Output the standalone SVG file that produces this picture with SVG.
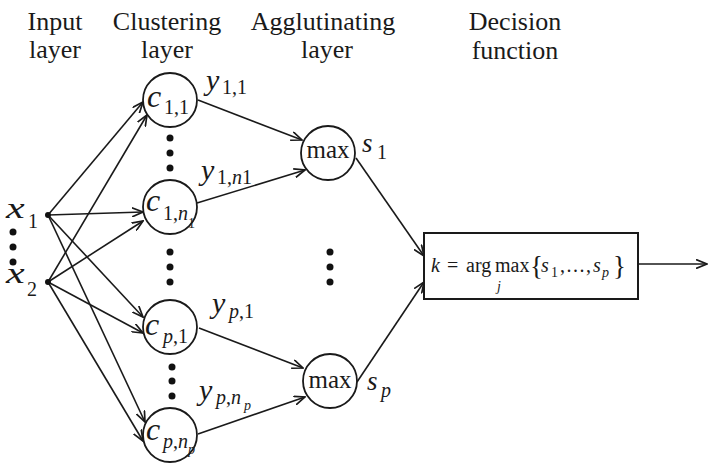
<svg xmlns="http://www.w3.org/2000/svg" width="709" height="463" viewBox="0 0 709 463" font-family="'Liberation Serif', 'Times New Roman', 'DejaVu Serif', serif">
<style>
text{font-family:'Liberation Serif','Times New Roman','DejaVu Serif',serif;fill:#1a1a1a}
.hd{font-size:26px;text-anchor:middle}
.it{font-style:italic}
.node{fill:#fff;stroke:#1a1a1a;stroke-width:1.8}
.ln{stroke:#1a1a1a;stroke-width:1.6;fill:none;marker-end:url(#ah)}
.dot{fill:#111}
.big{font-size:32px}
.sub{font-size:20px}
.ss{font-size:14px}
.mx{font-size:25px;text-anchor:middle}
</style>
<defs>
<marker id="ah" viewBox="0 0 12 10" refX="11" refY="5" markerWidth="12" markerHeight="10" markerUnits="userSpaceOnUse" orient="auto">
<path d="M0,0.5 L11,5 L0,9.5" fill="none" stroke="#1a1a1a" stroke-width="1.7"/>
</marker>
</defs>
<rect width="709" height="463" fill="#fff"/>
<g id="headers">
<text class="hd" x="55" y="30">Input</text><text class="hd" x="55" y="58">layer</text>
<text class="hd" x="167" y="30">Clustering</text><text class="hd" x="167" y="58">layer</text>
<text class="hd" x="323" y="30">Agglutinating</text><text class="hd" x="327" y="58">layer</text>
<text class="hd" x="515" y="30">Decision</text><text class="hd" x="515" y="59">function</text>
</g>
<g id="connectors">
<line class="ln" x1="48" y1="215" x2="143" y2="102"/>
<line class="ln" x1="48" y1="282" x2="147" y2="115"/>
<line class="ln" x1="48" y1="215" x2="143" y2="212"/>
<line class="ln" x1="48" y1="282" x2="143" y2="221"/>
<line class="ln" x1="48" y1="215" x2="143" y2="317"/>
<line class="ln" x1="48" y1="282" x2="143" y2="333"/>
<line class="ln" x1="48" y1="215" x2="145" y2="422"/>
<line class="ln" x1="48" y1="282" x2="143" y2="441"/>
<line class="ln" x1="198" y1="100" x2="302" y2="140"/>
<line class="ln" x1="197" y1="203" x2="305" y2="170"/>
<line class="ln" x1="199" y1="328" x2="303" y2="368"/>
<line class="ln" x1="198" y1="434" x2="305" y2="397"/>
<line class="ln" x1="356" y1="158" x2="424" y2="256"/>
<line class="ln" x1="357" y1="382" x2="424" y2="282"/>
<line class="ln" x1="638" y1="264" x2="707" y2="264"/>
</g>
<g id="x1">
<circle class="dot" cx="48" cy="215" r="3"/>
<text class="it" font-size="30" transform="translate(6,218) scale(1.4,1)">x</text>
<text class="sub" x="28" y="228">1</text>
</g>
<g id="x2">
<circle class="dot" cx="48" cy="282" r="3"/>
<text class="it" font-size="30" transform="translate(6,283) scale(1.4,1)">x</text>
<text class="sub" x="27" y="296">2</text>
</g>
<g id="dots">
<circle class="dot" cx="13" cy="232" r="3.5"/><circle class="dot" cx="13" cy="247" r="3.5"/><circle class="dot" cx="13" cy="262" r="3.5"/>
<circle class="dot" cx="170" cy="138" r="3.5"/><circle class="dot" cx="170" cy="153" r="3.5"/><circle class="dot" cx="170" cy="168" r="3.5"/>
<circle class="dot" cx="170" cy="252" r="3.5"/><circle class="dot" cx="170" cy="267" r="3.5"/><circle class="dot" cx="170" cy="282" r="3.5"/>
<circle class="dot" cx="172" cy="367" r="3.5"/><circle class="dot" cx="172" cy="381" r="3.5"/><circle class="dot" cx="172" cy="396" r="3.5"/>
<circle class="dot" cx="330" cy="252" r="3.5"/><circle class="dot" cx="330" cy="267" r="3.5"/><circle class="dot" cx="330" cy="282" r="3.5"/>
</g>
<g id="c11">
<circle class="node" cx="170" cy="100" r="27"/>
<text class="it big" x="147" y="107">c</text>
<text class="sub" x="164" y="114">1,1</text>
</g>
<g id="c1n1">
<circle class="node" cx="170" cy="207" r="27"/>
<text class="it big" x="146" y="211">c</text>
<text class="sub" x="163" y="220">1,<tspan class="it">n</tspan></text>
<text class="ss" x="188" y="228">1</text>
</g>
<g id="cp1">
<circle class="node" cx="170" cy="327" r="27"/>
<text class="it big" x="145" y="335">c</text>
<text class="sub" x="163" y="343"><tspan class="it">p</tspan>,1</text>
</g>
<g id="cpnp">
<circle class="node" cx="170" cy="435" r="27"/>
<text class="it big" x="146" y="440">c</text>
<text class="sub" x="163" y="448"><tspan class="it">p</tspan>,<tspan class="it">n</tspan></text>
<text class="ss it" x="188" y="454">p</text>
</g>
<g id="ylabels">
<text class="it" font-size="30" x="206" y="90">y</text>
<text class="sub" x="222" y="94">1,1</text>
<text class="it" font-size="30" x="201" y="180">y</text>
<text class="sub" x="217" y="184">1,<tspan class="it">n</tspan>1</text>
<text class="it" font-size="30" x="212" y="313">y</text>
<text class="sub" x="229" y="318"><tspan class="it">p</tspan>,1</text>
<text class="it" font-size="30" x="199" y="400">y</text>
<text class="sub" x="216" y="404"><tspan class="it">p</tspan>,<tspan class="it">n</tspan></text>
<text class="ss it" x="244" y="410">p</text>
</g>
<g id="max1">
<circle class="node" cx="328" cy="153" r="27"/>
<text class="mx" x="328" y="158">max</text>
<text class="it" font-size="27" x="362" y="152">s</text>
<text class="sub" x="377" y="159">1</text>
</g>
<g id="max2">
<circle class="node" cx="330" cy="381" r="27"/>
<text class="mx" x="330" y="388">max</text>
<text class="it" font-size="27" x="367" y="390">s</text>
<text class="sub it" x="381" y="397">p</text>
</g>
<g id="decision">
<rect x="424" y="233" width="214" height="66" fill="#fff" stroke="#1a1a1a" stroke-width="2"/>
<text font-size="20" x="431" y="272"><tspan class="it">k</tspan></text>
<text font-size="20" x="447" y="272">=</text>
<text font-size="20" x="466" y="272">arg</text>
<text font-size="20" x="495" y="272">max</text>
<text class="ss it" x="497" y="291">j</text>
<text font-size="27" x="530" y="275">{</text>
<text class="it" font-size="20" x="541" y="272">s</text>
<text class="ss" x="551" y="277">1</text>
<text font-size="20" x="560" y="272" textLength="31" lengthAdjust="spacing">,...,</text>
<text class="it" font-size="20" x="593" y="272">s</text>
<text class="ss it" x="602" y="277">p</text>
<text font-size="27" x="613" y="275">}</text>
</g>
</svg>
